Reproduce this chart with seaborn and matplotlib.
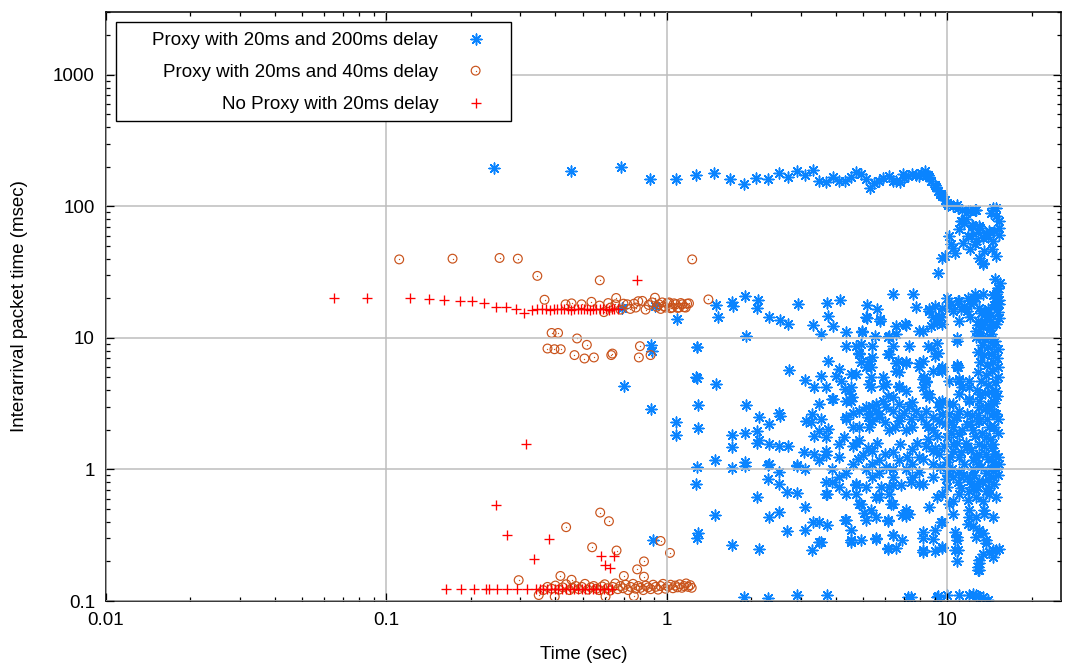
import numpy as np
import pandas as pd
import seaborn as sns
import matplotlib.pyplot as plt
from matplotlib.patches import Rectangle
from matplotlib.ticker import FixedLocator, LogLocator, NullFormatter

# ---------------------------------------------------------------------------
# Interarrival samples: (time in s, interarrival gap in ms)
# ---------------------------------------------------------------------------

# Proxy, 20 ms + 200 ms delay: the slow ~160 ms band and its collapse after ~9 s
proxy200_top = [
    (0.241, 195), (0.453, 186), (0.684, 198), (0.869, 162), (1.074, 160), (1.27, 172),
    (1.47, 179), (1.68, 161), (1.88, 149), (2.08, 163), (2.29, 161), (2.51, 178),
    (2.70, 167), (2.92, 184), (3.10, 172), (3.32, 190), (3.49, 155), (3.69, 153),
    (3.92, 168), (4.11, 157), (4.31, 155), (4.53, 166), (4.72, 181), (4.92, 177),
    (5.12, 161), (5.30, 138), (5.49, 150), (5.71, 157), (5.90, 164), (6.17, 169),
    (6.37, 157), (6.58, 157), (6.77, 153), (6.97, 177), (7.0, 165), (7.22, 171),
    (7.49, 177), (7.74, 174), (7.9, 170), (8.03, 179), (8.2, 176), (8.30, 184),
    (8.53, 174), (8.6, 168), (8.77, 157), (9.02, 146), (9.1, 140), (9.27, 130),
    (9.4, 125), (9.53, 119), (9.80, 112), (10.08, 103), (10.5, 100), (10.9, 97),
    (11.3, 94.5), (12.0, 92.7), (12.5, 94.5), (14.5, 97), (14.9, 97),
    (9.5, 123), (10.0, 106), (10.8, 103), (11.8, 91.7), (12.6, 94.5), (14.9, 84),
    (14.3, 89), (11.2, 76.9), (11.5, 74.8), (11.0, 66.7), (10.1, 59.3), (11.8, 59.3),
    (13.0, 70.5), (13.7, 62.8), (14.7, 64.7), (15.3, 68.5), (13.4, 57.5), (12.5, 51.3),
    (10.5, 48.3), (10.6, 44.3), (9.6, 40.6), (13.0, 40.6), (13.4, 36.2), (14.9, 41.8),
    (9.27, 31.2), (14.8, 27.9), (15.2, 24.0), (10.3, 51.3), (9.8, 41.8), (12.1, 59.3),
    (12.6, 54.3), (13.5, 45.6), (11.3, 76.9), (12.3, 70.5), (13.1, 68.5), (14.1, 64.7),
    (15.3, 76.9), (15.3, 61), (14.5, 54.3), (13.4, 37.2), (11.6, 80), (12.2, 72),
    (12.8, 64), (14.0, 58), (14.4, 47), (12.0, 47), (11.4, 53),
]

# Proxy, 20 ms + 200 ms delay: gaps between 10 and 30 ms
proxy200_mid = [
    (0.693, 17.0), (0.91, 17.5), (0.874, 8.9), (0.886, 7.97), (1.09, 13.9), (1.28, 8.5),
    (1.27, 5.0), (1.50, 17.7), (1.52, 14.5), (1.71, 18.8), (1.72, 17.5), (1.90, 20.8),
    (1.92, 10.4), (2.12, 19.3), (2.10, 17.0), (2.31, 14.3), (2.53, 13.7), (2.71, 12.8),
    (2.93, 18.0), (3.32, 12.5), (3.53, 10.7), (3.72, 18.3), (3.75, 14.7), (3.92, 12.3),
    (4.15, 19.3), (4.35, 11.0), (4.95, 11.0), (5.15, 17.7), (5.15, 14.1), (5.53, 10.4),
    (5.63, 16.5), (5.74, 13.5), (6.13, 10.1), (6.37, 21.4), (6.55, 10.7), (7.10, 12.5),
    (7.54, 21.4), (7.74, 17.3), (8.16, 11.3), (8.61, 16.0), (9.0, 17.5), (9.32, 14.7),
    (9.53, 17.0), (10.0, 20.2), (10.3, 18.0), (10.5, 16.0), (10.9, 19.1), (11.2, 16.6),
    (11.5, 17.5), (11.8, 20.2), (12.1, 18.0), (12.5, 21.4), (12.6, 20.2), (13.0, 17.0),
    (13.5, 16.0), (13.9, 14.7), (14.3, 15.0), (15.1, 24.0), (14.9, 20.2), (15.3, 18.0),
    (15.1, 15.6), (14.5, 12.7), (14.3, 10.7), (8.86, 14.3), (9.15, 13.0), (9.53, 12.7),
    (8.77, 12.3), (11.0, 13.5), (12.0, 14.3), (12.8, 13.5), (13.4, 12.0), (13.1, 10.4),
    (12.6, 10.1), (12.3, 19.1), (8.61, 16.6), (9.5, 14.3), (10.15, 17.5), (11.0, 19.1),
    (11.7, 16.0), (13.4, 21.4), (14.9, 21.4), (14.9, 18.0), (14.1, 14.3), (13.4, 12.6),
    (12.6, 11.3), (5.12, 14.3), (5.74, 13.9), (4.95, 11.2), (6.17, 10.4), (6.55, 12.3),
    (7.04, 12.7), (7.94, 11.3), (12.8, 12.5), (13.5, 13.2), (14.2, 11.8), (14.9, 12.8),
    (15.3, 14.2), (13.2, 15.4), (14.0, 16.5), (14.7, 17.8), (15.3, 19.5), (15.0, 22.5),
    (15.4, 26), (14.5, 21),
]

# Proxy, 20 ms + 200 ms delay: the scattered cloud below 10 ms
proxy200_cloud = [
    (0.70, 4.3), (0.88, 2.9), (0.89, 0.289), (1.27, 0.78), (1.48, 0.449), (1.28, 0.30),
    (1.70, 0.265), (2.13, 0.25), (1.28, 8.6), (1.28, 4.95), (1.50, 4.46), (1.29, 3.09),
    (1.91, 3.09), (2.73, 5.69), (1.074, 2.28), (1.08, 1.83), (1.29, 2.06), (1.71, 1.84),
    (1.90, 1.88), (2.13, 2.49), (2.09, 1.97), (2.10, 1.59), (1.71, 1.49), (2.31, 2.22),
    (2.53, 2.56), (2.50, 1.52), (2.69, 1.52), (1.48, 1.19), (1.28, 1.04), (1.90, 1.14),
    (2.31, 1.10), (3.10, 4.81), (3.35, 4.2), (3.54, 5.15), (3.74, 6.7), (3.69, 4.25),
    (3.92, 3.43), (4.11, 5.8), (4.17, 4.72), (4.31, 4.09), (4.46, 3.98), (4.53, 3.33),
    (3.49, 3.15), (3.30, 2.64), (3.54, 2.42), (3.74, 2.03), (3.26, 2.28), (3.13, 2.35),
    (3.35, 1.81), (3.49, 1.95), (3.69, 1.76), (4.35, 2.49), (4.28, 1.76), (4.59, 2.09),
    (4.11, 1.57), (4.72, 1.60), (3.09, 1.35), (3.35, 1.32), (3.69, 1.28), (3.49, 1.19),
    (2.92, 1.07), (1.29, 0.326), (2.10, 0.617), (1.71, 1.03), (1.90, 1.07), (2.30, 1.09),
    (2.30, 0.85), (2.51, 0.955), (2.51, 0.78), (2.68, 0.673), (2.92, 0.661), (2.90, 1.09),
    (3.10, 1.0), (3.10, 0.518), (2.31, 0.435), (2.50, 0.475), (2.68, 0.339), (3.10, 0.349),
    (3.32, 0.399), (3.49, 0.399), (3.72, 0.376), (3.49, 0.279), (3.30, 0.243), (3.69, 0.80),
    (3.72, 0.655), (3.89, 0.80), (4.11, 0.734), (3.89, 1.0), (4.33, 0.411), (4.53, 0.345),
    (4.53, 0.281), (4.72, 0.756), (4.72, 0.655), (4.92, 0.549), (5.12, 0.411), (5.56, 0.435),
    (5.33, 0.489), (4.92, 0.29), (5.56, 0.299), (6.12, 0.406), (6.12, 0.255), (6.37, 0.316),
    (6.55, 0.255), (6.91, 0.29), (6.91, 0.448), (7.30, 0.461), (6.20, 0.655), (6.29, 0.549),
    (5.71, 0.617), (5.80, 0.734), (6.37, 0.756), (6.82, 0.756), (7.42, 0.80), (8.16, 0.78),
    (8.61, 0.518), (8.16, 0.335), (9.0, 0.345), (9.5, 0.399), (8.16, 0.236), (9.0, 0.24),
    (9.58, 0.255), (10.6, 0.335), (10.8, 0.29), (10.9, 0.243), (10.8, 0.2), (10.5, 0.461),
    (10.1, 0.549), (9.6, 0.655), (11.9, 0.435), (12.3, 0.373), (12.6, 0.307), (13.4, 0.326),
    (13.7, 0.274), (14.1, 0.236), (14.9, 0.243), (14.5, 0.217), (13.4, 0.228), (13.0, 0.204),
    (12.8, 0.182), (13.0, 0.172), (13.5, 0.49), (14.5, 0.435), (11.8, 0.582), (12.6, 0.692),
    (4.35, 8.7), (4.72, 8.7), (5.40, 8.7), (6.37, 8.7), (7.30, 8.7), (8.51, 8.7),
    (9.15, 9.2), (10.8, 10.0), (4.84, 7.5), (5.40, 7.1), (6.20, 7.5), (7.10, 6.6),
    (7.94, 6.4), (9.0, 7.3), (4.92, 6.6), (6.55, 6.4), (4.92, 9.0), (4.84, 7.7),
    (6.12, 7.5), (10.8, 9.5), (5.27, 6.7), (5.12, 6.0), (6.64, 6.7), (7.10, 6.4),
    (7.94, 6.0), (6.55, 5.6), (5.87, 5.0), (5.33, 5.0), (6.74, 4.25), (5.87, 4.33),
    (5.33, 4.2), (9.5, 5.8), (10.8, 6.0), (11.0, 4.87), (8.27, 5.0), (8.16, 4.2),
    (8.61, 3.74), (4.52, 4.2), (4.57, 3.53), (6.12, 3.6), (7.30, 3.05), (5.12, 2.97),
    (5.56, 2.8), (5.71, 2.49), (5.27, 2.09), (6.74, 2.49), (8.05, 2.49), (8.51, 2.09),
    (9.36, 2.35), (10.15, 3.15), (11.9, 4.2), (11.9, 3.33), (11.7, 2.64), (12.8, 2.35),
    (14.1, 2.09), (14.9, 2.64), (14.5, 3.33), (14.9, 3.96), (13.1, 3.74), (4.0, 5.15),
    (4.53, 5.3), (5.33, 6.0), (6.74, 4.33), (8.39, 4.72), (9.6, 5.6), (11.0, 4.72),
    (10.9, 6.0), (5.27, 4.46), (6.04, 4.46), (3.89, 3.43), (4.35, 3.33), (4.35, 2.42),
    (4.84, 2.8), (5.56, 3.15), (6.37, 2.8), (7.50, 3.23), (8.39, 2.8), (9.6, 3.33),
    (10.5, 3.15), (11.9, 3.43), (13.0, 2.97), (14.1, 2.88), (5.40, 2.35), (6.20, 1.98),
    (7.10, 1.98), (8.39, 2.23), (9.6, 2.64), (10.5, 2.09), (11.7, 2.23), (13.0, 2.35),
    (2.51, 2.7), (2.13, 1.66), (2.31, 1.57), (3.69, 1.39), (4.11, 1.24), (4.59, 1.52),
    (4.84, 1.66), (4.98, 1.28), (5.40, 1.39), (5.71, 1.17), (6.37, 1.35), (6.74, 1.17),
    (7.50, 1.43), (7.94, 1.24), (8.39, 1.52), (8.86, 1.10), (9.36, 1.31), (10.0, 1.13),
    (10.5, 1.39), (11.0, 1.24), (11.7, 1.48), (12.3, 1.17), (13.0, 1.57), (13.7, 1.31),
    (14.5, 1.13), (15.1, 1.24), (5.12, 1.0), (5.71, 0.94), (6.37, 1.01), (7.10, 1.0),
    (7.94, 0.955), (8.86, 0.875), (10.0, 0.94), (11.0, 0.955), (12.3, 1.0), (13.7, 0.94),
    (14.9, 1.0), (4.72, 0.78), (5.12, 0.735), (5.56, 0.617), (6.20, 0.735), (6.37, 0.55),
    (7.10, 0.489), (7.94, 0.78), (9.15, 0.617), (10.0, 0.735), (10.5, 0.58), (11.0, 0.655),
    (11.9, 0.69), (12.6, 0.617), (13.4, 0.58), (14.1, 0.655), (14.9, 0.617), (11.9, 0.489),
    (12.6, 0.435), (11.8, 0.387), (13.5, 0.46), (13.0, 0.345), (13.7, 0.29), (14.5, 0.243),
    (13.0, 0.196), (12.8, 0.172), (15.3, 0.25), (10.8, 0.307), (10.6, 0.243), (9.6, 0.399),
    (8.86, 0.298), (9.6, 0.258), (8.16, 0.243), (8.16, 0.30), (7.10, 0.47), (6.37, 0.316),
    (6.12, 0.25), (5.56, 0.298), (4.53, 0.29), (3.54, 0.28), (4.35, 0.41), (6.12, 0.41),
    (7.10, 0.445), (5.06, 0.47), (4.84, 0.55), (4.35, 0.655), (3.69, 0.655), (4.11, 0.875),
    (8.16, 4.91), (8.61, 3.53), (9.36, 3.23), (6.74, 5.48), (7.10, 3.98), (7.74, 2.8),
    (6.37, 3.53), (5.27, 2.64), (4.84, 2.09), (5.71, 2.64), (6.04, 2.97), (6.74, 2.35),
    (7.50, 2.09), (8.86, 1.98), (10.0, 1.76), (11.0, 1.86), (12.3, 1.98), (13.7, 1.76),
    (14.5, 1.57), (10.5, 1.57), (8.86, 1.39), (7.50, 1.10), (6.04, 1.04), (5.40, 1.10),
    (4.59, 1.10), (4.35, 0.94), (5.40, 0.875), (6.37, 0.875), (7.50, 0.875), (10.5, 0.875),
    (11.7, 0.875), (13.0, 0.82), (14.5, 0.875), (12.3, 0.735), (13.7, 0.69),
    (8.77, 8.4), (9.27, 7.7), (8.16, 6.7), (8.86, 5.6), (9.6, 6.0), (10.8, 6.2),
    (10.15, 4.72), (11.0, 3.74), (11.3, 4.2), (11.9, 4.72), (8.39, 4.6), (8.39, 3.74),
    (9.36, 2.97), (10.1, 2.64), (10.8, 2.49), (6.74, 3.15), (4.72, 5.3), (5.40, 3.05),
    (5.87, 3.33),
    (13.0, 10.5), (13.6, 9.8), (14.2, 10.2), (14.8, 9.5), (13.3, 8.9), (14.0, 8.5),
    (14.6, 8.8), (15.2, 8.2), (12.8, 7.8), (13.5, 7.4), (14.3, 7.6), (15.0, 7.0),
    (13.1, 6.6), (13.8, 6.2), (14.5, 6.5), (15.2, 6.0), (12.9, 5.5), (13.7, 5.2),
    (14.4, 5.6), (15.1, 5.0), (13.2, 4.7), (14.0, 4.4), (14.8, 4.6), (12.7, 4.0),
    (13.6, 3.8), (14.3, 3.9), (15.0, 3.6), (13.0, 3.3), (13.9, 3.1), (14.7, 3.2),
    (9.8, 2.2), (10.3, 1.9), (10.7, 2.5), (11.3, 2.0), (11.6, 1.6), (12.0, 2.2),
    (12.5, 1.8), (12.9, 2.6), (13.3, 1.9), (13.8, 2.4), (14.2, 1.7), (14.7, 2.1),
    (15.2, 1.9), (9.7, 1.5), (10.2, 1.25), (10.8, 1.6), (11.2, 1.35), (11.5, 1.1),
    (12.1, 1.4), (12.6, 1.25), (13.2, 1.05), (13.5, 1.5), (14.0, 1.2), (14.4, 1.45),
    (14.8, 1.3), (15.3, 1.1), (9.9, 0.85), (10.4, 1.0), (10.9, 0.8), (11.4, 0.9),
    (12.0, 0.82), (12.4, 0.9), (12.9, 1.1), (13.3, 0.8), (13.9, 0.85), (14.3, 1.0),
    (14.7, 0.78), (15.2, 0.9), (11.2, 0.72), (12.7, 0.75), (14.1, 0.72), (13.0, 1.3),
    (12.2, 2.6), (11.0, 2.8), (13.6, 2.9), (14.6, 2.7), (15.1, 2.4), (10.4, 2.3),
    (9.2, 1.8), (9.0, 1.45), (8.5, 1.7), (8.2, 1.2), (7.8, 1.6), (7.2, 1.25),
    (6.8, 1.55), (6.0, 1.3), (5.6, 1.6), (5.2, 1.45), (4.8, 1.2), (9.4, 1.05),
    (8.9, 2.5), (7.4, 2.4), (7.0, 2.7), (6.5, 2.1), (6.0, 2.3), (5.2, 2.5), (4.6, 2.7),
]

# Proxy, 20 ms + 200 ms delay: gaps at the floor of the axis
proxy200_floor = [
    (1.88, 0.108), (2.30, 0.105), (2.90, 0.111), (3.72, 0.111), (7.22, 0.108),
    (7.42, 0.108), (9.15, 0.108), (9.27, 0.109), (10.0, 0.111), (11.0, 0.111),
    (11.9, 0.112), (12.3, 0.113), (12.6, 0.111), (12.8, 0.110), (13.4, 0.108),
    (13.9, 0.102),
]

# Proxy, 20 ms + 40 ms delay
proxy40 = [
    (0.111, 39.5), (0.172, 40), (0.253, 40.5), (0.294, 40), (1.23, 39.5),
    (0.345, 29.6), (0.576, 27.4),
    (0.366, 19.5), (0.435, 18.0), (0.457, 18.3), (0.496, 18.0), (0.538, 18.8),
    (0.596, 15.7), (0.617, 18.4), (0.659, 20.1), (0.683, 16.4), (0.70, 18.2),
    (0.655, 18.0), (0.63, 17.0), (0.575, 17.6), (1.405, 19.6),
    (0.722, 18.0), (0.74, 16.6), (0.763, 18.2), (0.774, 17.0), (0.79, 19.0),
    (0.817, 19.1), (0.839, 16.4), (0.86, 17.8), (0.886, 18.6), (0.906, 20.2),
    (0.92, 17.2), (0.936, 18.0), (0.95, 16.6), (0.962, 18.6), (0.975, 17.4),
    (0.989, 17.0), (1.003, 18.4), (1.017, 18.6), (1.03, 16.8), (1.044, 17.0),
    (1.06, 18.3), (1.074, 18.0), (1.09, 16.9), (1.104, 17.0), (1.12, 18.4),
    (1.134, 18.0), (1.15, 17.1), (1.166, 17.0), (1.18, 18.2), (1.198, 18.3),
    (0.388, 10.9), (0.409, 10.9), (0.375, 8.3), (0.397, 8.2), (0.418, 8.2),
    (0.478, 9.9), (0.518, 8.85), (0.468, 7.4), (0.508, 6.97), (0.549, 7.1),
    (0.633, 7.4), (0.639, 7.6), (0.801, 8.65), (0.794, 7.1), (0.874, 7.4),
    (0.578, 0.470), (0.621, 0.404), (0.437, 0.364), (0.541, 0.256), (0.661, 0.242),
    (0.949, 0.286), (1.025, 0.232), (0.828, 0.200), (0.783, 0.174), (0.828, 0.153),
    (0.702, 0.155), (0.417, 0.155), (0.457, 0.145), (0.296, 0.144),
    (0.349, 0.111), (0.398, 0.108), (0.604, 0.108), (0.762, 0.109),
    (0.362, 0.121), (0.375, 0.128), (0.388, 0.124), (0.40, 0.131), (0.412, 0.122),
    (0.425, 0.127), (0.437, 0.134), (0.449, 0.121), (0.46, 0.126), (0.473, 0.13),
    (0.485, 0.123), (0.497, 0.128), (0.51, 0.135), (0.522, 0.122), (0.535, 0.127),
    (0.548, 0.13), (0.56, 0.124), (0.573, 0.121), (0.587, 0.129), (0.60, 0.134),
    (0.613, 0.125), (0.627, 0.12), (0.64, 0.128), (0.654, 0.136), (0.668, 0.123),
    (0.682, 0.13), (0.697, 0.125), (0.712, 0.133), (0.727, 0.121), (0.742, 0.128),
    (0.757, 0.135), (0.773, 0.124), (0.79, 0.13), (0.806, 0.126), (0.823, 0.121),
    (0.84, 0.131), (0.857, 0.127), (0.875, 0.123), (0.893, 0.133), (0.911, 0.128),
    (0.93, 0.122), (0.949, 0.13), (0.968, 0.135), (0.988, 0.124), (1.008, 0.129),
    (1.03, 0.133), (1.05, 0.125), (1.07, 0.131), (1.09, 0.127), (1.11, 0.134),
    (1.13, 0.126), (1.15, 0.13), (1.17, 0.136), (1.19, 0.128), (1.21, 0.132),
    (1.225, 0.126),
]

# No proxy, 20 ms delay
noproxy = [
    (0.065, 20), (0.085, 20), (0.121, 20), (0.142, 19.8), (0.161, 19.5), (0.183, 19.2),
    (0.202, 19.2), (0.223, 18.3), (0.245, 17.1), (0.267, 17.2), (0.290, 16.7),
    (0.309, 15.4), (0.330, 16.4), (0.345, 16.6), (0.358, 16.5), (0.37, 16.7),
    (0.382, 16.4), (0.395, 16.6), (0.405, 16.5), (0.418, 16.7), (0.43, 16.5),
    (0.443, 16.6), (0.455, 16.4), (0.468, 16.6), (0.48, 16.5), (0.493, 16.7),
    (0.505, 16.5), (0.52, 16.6), (0.533, 16.4), (0.547, 16.6), (0.56, 16.5),
    (0.575, 16.7), (0.59, 16.5), (0.605, 16.6), (0.62, 16.4), (0.635, 16.6),
    (0.65, 16.5), (0.668, 16.6), (0.783, 27.4),
    (0.315, 1.55),
    (0.245, 0.541), (0.268, 0.316), (0.380, 0.297), (0.337, 0.207), (0.583, 0.219),
    (0.647, 0.219), (0.600, 0.1875), (0.626, 0.179),
    (0.1626, 0.123), (0.1838, 0.123), (0.205, 0.124), (0.2258, 0.123), (0.232, 0.124),
    (0.248, 0.123), (0.270, 0.124), (0.2926, 0.123), (0.318, 0.124), (0.340, 0.123),
    (0.352, 0.124), (0.362, 0.123), (0.375, 0.124), (0.386, 0.123), (0.398, 0.124),
    (0.41, 0.123), (0.424, 0.124), (0.437, 0.123), (0.45, 0.124), (0.466, 0.123),
    (0.48, 0.124), (0.496, 0.123), (0.511, 0.124), (0.527, 0.123), (0.544, 0.124),
    (0.56, 0.123), (0.578, 0.124), (0.597, 0.123), (0.616, 0.124), (0.638, 0.123),
]

labels = [
    "Proxy with 20ms and 200ms delay",
    "Proxy with 20ms and 40ms delay",
    "No Proxy with 20ms delay",
]
x_ticks = [0.01, 0.1, 1, 10]
x_ticklabels = ["0.01", "0.1", "1", "10"]
y_ticks = [0.1, 1, 10, 100, 1000]
y_ticklabels = ["0.1", "1", "10", "100", "1000"]


def frame(points):
    return pd.DataFrame(points, columns=["time", "gap"])


df200 = frame(proxy200_top + proxy200_mid + proxy200_cloud + proxy200_floor)
df40 = frame(proxy40)
dfno = frame(noproxy)

BLUE = "#0a84ff"
ORANGE = "#c9521a"
RED = "#ff0000"

sns.set_theme(style="ticks")
plt.rcParams["font.family"] = ["Liberation Sans", "DejaVu Sans"]
plt.rcParams["text.color"] = "black"
plt.rcParams["axes.labelcolor"] = "black"

fig, ax = plt.subplots(figsize=(10.71, 6.63), dpi=100)
fig.subplots_adjust(left=106 / 1071, right=1061 / 1071,
                    bottom=1 - 601 / 663, top=1 - 12 / 663)

sns.scatterplot(data=df200, x="time", y="gap", ax=ax, marker=(8, 2, 0),
                s=60, color=BLUE, linewidth=1.1)
h200 = ax.collections[-1]
sns.scatterplot(data=df40, x="time", y="gap", ax=ax, marker="o", s=40,
                facecolors="none", edgecolor=ORANGE, linewidth=0.85)
h40 = ax.collections[-1]
sns.scatterplot(data=df40, x="time", y="gap", ax=ax, marker="o", s=0.9,
                color=ORANGE, linewidth=0)
h40dot = ax.collections[-1]
sns.scatterplot(data=dfno, x="time", y="gap", ax=ax, marker="+", s=50,
                color=RED, linewidth=0.95)
hno = ax.collections[-1]

ax.set_xscale("log")
ax.set_yscale("log")
ax.set_xlim(0.01, 25.4)
ax.set_ylim(0.1, 3000)

ax.xaxis.set_major_locator(FixedLocator(x_ticks))
ax.set_xticklabels(x_ticklabels)
ax.yaxis.set_major_locator(FixedLocator(y_ticks))
ax.set_yticklabels(y_ticklabels)
ax.xaxis.set_minor_locator(LogLocator(base=10, subs=np.arange(2, 10), numticks=20))
ax.yaxis.set_minor_locator(LogLocator(base=10, subs=np.arange(2, 10), numticks=20))
ax.xaxis.set_minor_formatter(NullFormatter())
ax.yaxis.set_minor_formatter(NullFormatter())

ax.tick_params(which="both", direction="in", top=True, right=True,
               bottom=True, left=True, color="black", width=0.9)
ax.tick_params(which="major", length=6, pad=8, labelsize=13.5, labelcolor="black")
ax.tick_params(which="minor", length=3)

ax.grid(True, which="major", color="#bdbdbd", linewidth=1.1)
ax.set_axisbelow(False)
for sp in ax.spines.values():
    sp.set_color("black")
    sp.set_linewidth(1.1)

ax.set_xlabel("Time (sec)", fontsize=13.5, labelpad=12, color="black")
ax.set_ylabel("Interarrival packet time (msec)", fontsize=13.5, labelpad=18,
              color="black")

# legend box (gnuplot style: text right-aligned, sample on the right)
box = Rectangle((116 / 1071, 1 - 121 / 663), (511 - 116) / 1071, (121 - 22) / 663,
                transform=fig.transFigure, facecolor="white", edgecolor="black",
                linewidth=1.0, zorder=4, clip_on=False)
ax.add_patch(box)
leg = ax.legend([h200, (h40, h40dot), hno], labels, loc="upper right",
                bbox_to_anchor=((485 - 106) / 955, (601 - 32) / 589),
                bbox_transform=ax.transAxes, frameon=False, markerfirst=False,
                handlelength=1.0, handletextpad=1.5, borderpad=0, borderaxespad=0,
                labelspacing=0.8, fontsize=13.5, scatterpoints=1,
                scatteryoffsets=[0.5])
for txt in leg.get_texts():
    txt.set_color("black")
leg.set_zorder(5)

fig.savefig("out.png", dpi=100)
